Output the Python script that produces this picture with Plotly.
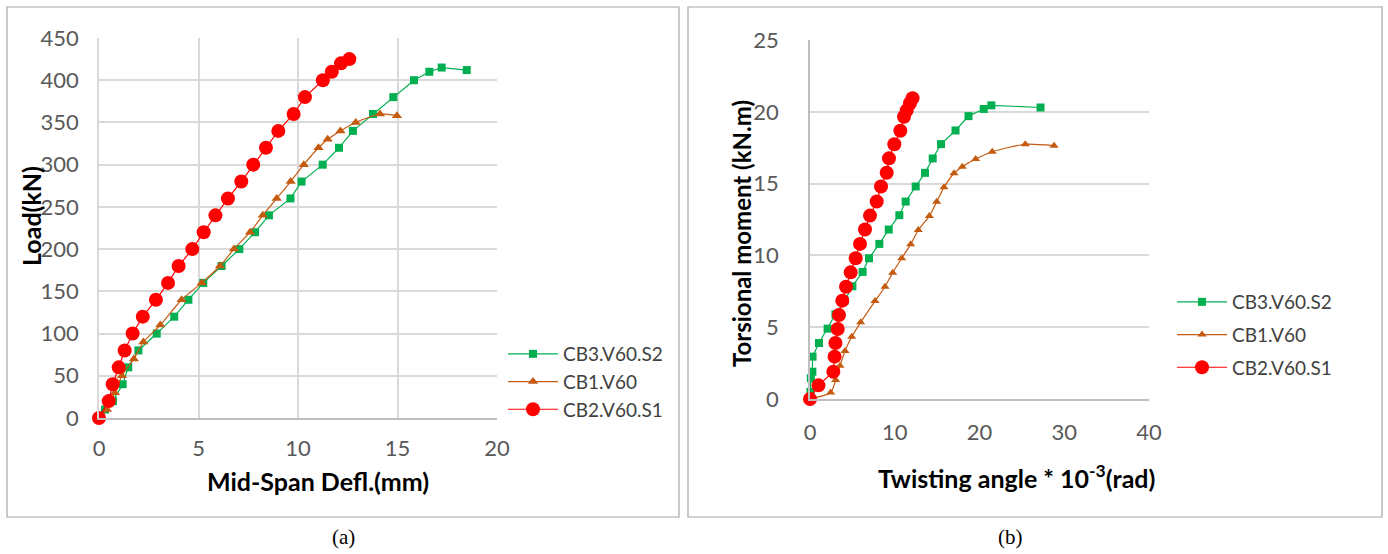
import plotly.graph_objects as go

# ---------- Data: (a) Load vs mid-span deflection ----------
a_cb3_x = [0, 0.3, 0.7, 1.19, 1.47, 1.98, 2.9, 3.78, 4.49, 5.24, 6.16, 7.05, 7.84, 8.54, 9.62,
           10.18, 11.24, 12.06, 12.76, 13.77, 14.79, 15.83, 16.6, 17.22, 18.48]
a_cb3_y = [0, 10, 20, 40, 60, 80, 100, 120, 140, 160, 180, 200, 220, 240, 260,
           280, 300, 320, 340, 360, 380, 400, 410, 415, 412]

a_cb1_x = [0, 0.4, 0.8, 1.15, 1.75, 2.23, 3.08, 4.15, 5.16, 6.08, 6.78, 7.59, 8.23, 8.93,
           9.63, 10.29, 11.03, 11.49, 12.13, 12.9, 14.12, 14.97]
a_cb1_y = [0, 10, 30, 50, 70, 90, 110, 140, 160, 180, 200, 220, 240, 260,
           280, 300, 320, 330, 340, 350, 360, 358]

a_cb2_x = [0, 0.49, 0.69, 0.99, 1.29, 1.69, 2.2, 2.86, 3.47, 4.0, 4.69, 5.26, 5.85, 6.48,
           7.15, 7.75, 8.39, 9.01, 9.78, 10.35, 11.25, 11.7, 12.16, 12.58]
a_cb2_y = [0, 20, 40, 60, 80, 100, 120, 140, 160, 180, 200, 220, 240, 260,
           280, 300, 320, 340, 360, 380, 400, 410, 420, 425]

# ---------- Data: (b) Torsional moment vs twisting angle ----------
b_cb3_x = [0, 0.05, 0.1, 0.28, 0.3, 1.06, 2.08, 3.0, 4.1, 5.0, 6.21, 6.96, 8.18, 9.29, 10.54,
           11.29, 12.47, 13.57, 14.48, 15.46, 17.17, 18.7, 20.5, 21.4, 27.2]
b_cb3_y = [0, 0.5, 1.45, 1.9, 2.95, 3.9, 4.9, 5.9, 6.85, 7.85, 8.85, 9.8, 10.8, 11.8, 12.8,
           13.75, 14.8, 15.75, 16.75, 17.75, 18.7, 19.7, 20.2, 20.45, 20.3]

b_cb1_x = [0, 2.44, 3.03, 3.54, 4.13, 4.92, 5.98, 7.67, 8.85, 9.76, 10.82, 11.88, 12.78,
           14.08, 14.95, 15.81, 17.0, 17.97, 19.55, 21.5, 25.4, 28.8]
b_cb1_y = [0, 0.45, 1.32, 2.32, 3.34, 4.34, 5.34, 6.82, 7.82, 8.8, 9.8, 10.77, 11.77,
           12.74, 13.74, 14.74, 15.72, 16.18, 16.71, 17.22, 17.74, 17.64]

b_cb2_x = [0, 1.0, 2.75, 2.9, 3.0, 3.27, 3.42, 3.81, 4.25, 4.8, 5.39, 5.9, 6.49, 7.08,
           7.87, 8.38, 9.05, 9.32, 9.95, 10.66, 11.09, 11.41, 11.8, 12.1]
b_cb2_y = [0, 0.95, 1.9, 2.95, 3.9, 4.87, 5.85, 6.85, 7.82, 8.82, 9.8, 10.8, 11.8, 12.77,
           13.75, 14.8, 15.76, 16.76, 17.74, 18.68, 19.66, 20.1, 20.6, 20.95]

names = ["CB3.V60.S2", "CB1.V60", "CB2.V60.S1"]
GREEN, ORANGE, RED = "#00B050", "#C55A11", "#FF0000"

W, H = 1388, 554
def px(x):
    return x / W
def py(y):
    return 1 - y / H

FONT = "Lato, 'Open Sans', sans-serif"

fig = go.Figure()

def add(xs, ys, name, color, symbol, size, xa, ya, leg, grp, spline=False):
    line = dict(color=color, width=1.2)
    if spline:
        line.update(shape="spline", smoothing=0.6)
    fig.add_trace(go.Scatter(x=xs, y=ys, name=name, mode="lines+markers",
                             line=line, marker=dict(symbol=symbol, size=size, color=color),
                             cliponaxis=False, xaxis=xa, yaxis=ya, legend=leg,
                             legendgroup=grp))

# Panel (a)
add(a_cb3_x, a_cb3_y, names[0], GREEN, "square", 8, "x", "y", "legend", "a1")
add(a_cb1_x, a_cb1_y, names[1], ORANGE, "triangle-up", 9, "x", "y", "legend", "a2", spline=True)
add(a_cb2_x, a_cb2_y, names[2], RED, "circle", 14, "x", "y", "legend", "a3")
# Panel (b)
add(b_cb3_x, b_cb3_y, names[0], GREEN, "square", 8, "x2", "y2", "legend2", "b1")
add(b_cb1_x, b_cb1_y, names[1], ORANGE, "triangle-up", 8, "x2", "y2", "legend2", "b2", spline=True)
add(b_cb2_x, b_cb2_y, names[2], RED, "circle", 14, "x2", "y2", "legend2", "b3")

tickfont = dict(family=FONT, size=22, color="#595959")
grid = "#D9D9D9"
axline = "#BFBFBF"

fig.update_layout(
    width=W, height=H,
    margin=dict(l=0, r=0, t=0, b=0, autoexpand=False),
    paper_bgcolor="white", plot_bgcolor="white",
    font=dict(family=FONT),
    xaxis=dict(domain=[px(99), px(497)], range=[0, 20], dtick=5, tick0=0,
               showgrid=True, gridcolor=grid, gridwidth=1.5, zeroline=False,
               showline=True, linecolor=axline, linewidth=1.5,
               ticks="outside", ticklen=10, tickcolor="rgba(0,0,0,0)",
               tickfont=tickfont, anchor="y", automargin=False),
    yaxis=dict(domain=[py(418), py(38)], range=[0, 450], dtick=50, tick0=0,
               showgrid=True, gridcolor=grid, gridwidth=1.5, zeroline=False,
               showline=True, linecolor=grid, linewidth=1.5,
               ticks="outside", ticklen=14, tickcolor="rgba(0,0,0,0)",
               tickfont=tickfont, anchor="x", automargin=False),
    xaxis2=dict(domain=[px(810), px(1149)], range=[0, 40], dtick=10, tick0=0,
                showgrid=False, zeroline=False,
                showline=True, linecolor=axline, linewidth=1.5,
                ticks="outside", ticklen=13, tickcolor="rgba(0,0,0,0)",
                tickfont=tickfont, anchor="y2", automargin=False),
    yaxis2=dict(domain=[py(399), py(40)], range=[0, 25], dtick=5, tick0=0,
                showgrid=True, gridcolor=grid, gridwidth=1.5, zeroline=False,
                showline=True, linecolor=axline, linewidth=1.5,
                ticks="outside", ticklen=25, tickcolor="rgba(0,0,0,0)",
                tickfont=tickfont, anchor="x2", automargin=False),
    legend=dict(x=px(503), y=py(335), xanchor="left", yanchor="top",
                font=dict(family=FONT, size=19, color="#404040"),
                bgcolor="rgba(0,0,0,0)", tracegroupgap=0, itemwidth=50),
    legend2=dict(x=px(1172), y=py(283), xanchor="left", yanchor="top",
                 font=dict(family=FONT, size=19, color="#404040"),
                 bgcolor="rgba(0,0,0,0)", tracegroupgap=5, itemwidth=50),
    showlegend=True,
)

shapes = [
    dict(type="rect", xref="paper", yref="paper", x0=px(7), x1=px(679), y0=py(517), y1=py(7),
         line=dict(color="#A6A6A6", width=1.2), fillcolor="rgba(0,0,0,0)", layer="below"),
    dict(type="rect", xref="paper", yref="paper", x0=px(688), x1=px(1382), y0=py(517), y1=py(7),
         line=dict(color="#A6A6A6", width=1.2), fillcolor="rgba(0,0,0,0)", layer="below"),
]
fig.update_layout(shapes=shapes)

title_font = dict(family=FONT, size=25, color="black")
annotations = [
    dict(text="<b>Load(kN)</b>", x=px(31), y=py(216), xref="paper", yref="paper",
         textangle=-90, showarrow=False, font=title_font, xanchor="center", yanchor="middle"),
    dict(text="<b>Mid-Span Defl.(mm)</b>", x=px(318), y=py(481), xref="paper", yref="paper",
         showarrow=False, font=title_font, xanchor="center", yanchor="middle"),
    dict(text="<b>Torsional moment (kN.m)</b>", x=px(741), y=py(234), xref="paper", yref="paper",
         textangle=-90, showarrow=False, font=dict(family=FONT, size=24, color="black"),
         xanchor="center", yanchor="middle"),
    dict(text="<b>Twisting angle * 10<sup>-3</sup>(rad)</b>", x=px(1016), y=py(476),
         xref="paper", yref="paper", showarrow=False, font=title_font,
         xanchor="center", yanchor="middle"),
    dict(text="(a)", x=px(343), y=py(537), xref="paper", yref="paper", showarrow=False,
         font=dict(family="Liberation Serif, serif", size=21, color="black"),
         xanchor="center", yanchor="middle"),
    dict(text="(b)", x=px(1010), y=py(537), xref="paper", yref="paper", showarrow=False,
         font=dict(family="Liberation Serif, serif", size=21, color="black"),
         xanchor="center", yanchor="middle"),
]
fig.update_layout(annotations=annotations)

fig.write_html(
    "out.html",
    config={"displayModeBar": False},
    post_script="document.body.style.margin='0';document.body.style.overflow='hidden';"
                "document.documentElement.style.overflow='hidden';",
)
